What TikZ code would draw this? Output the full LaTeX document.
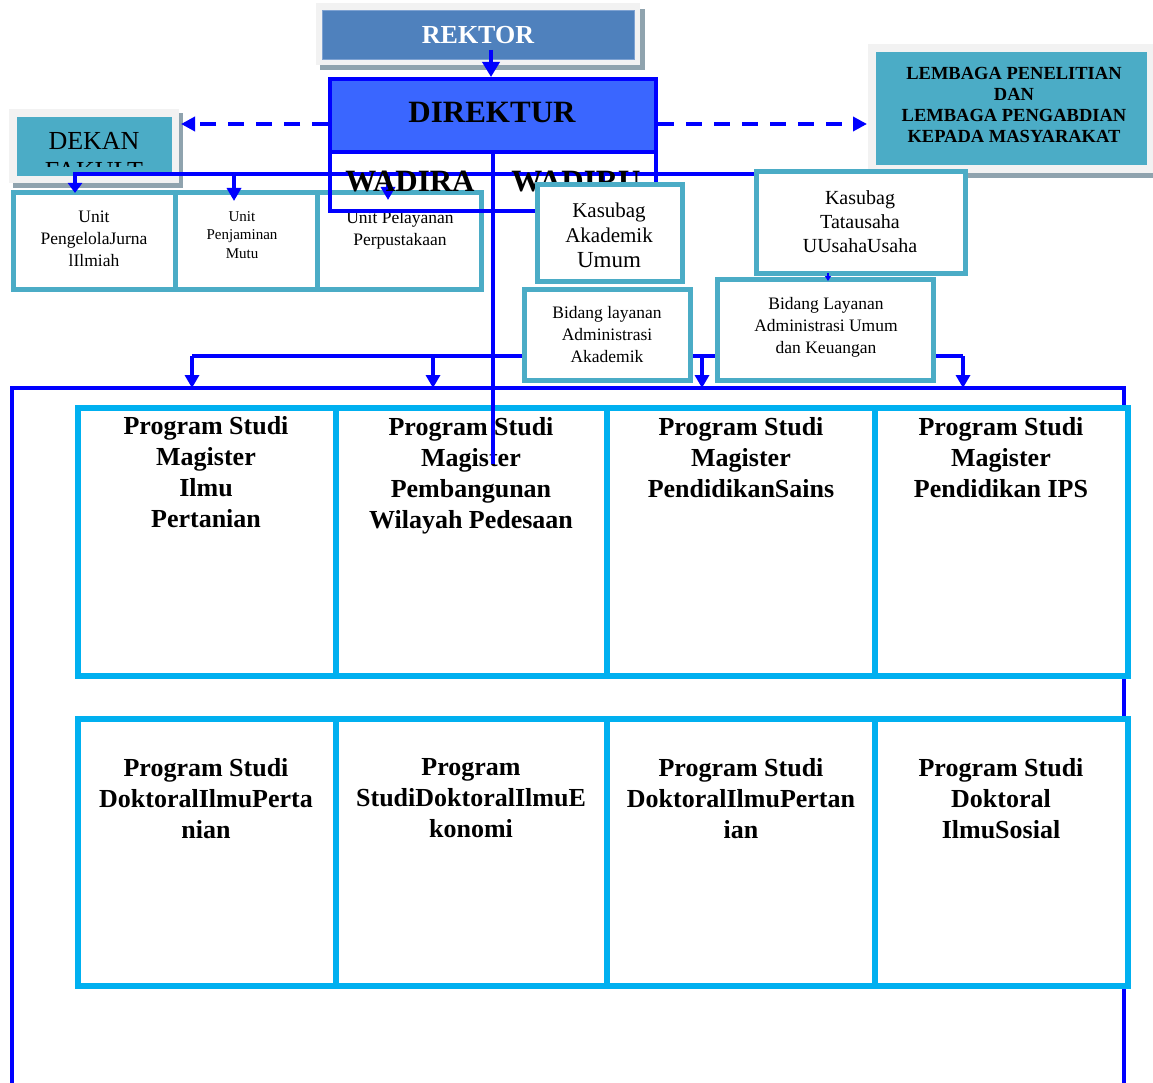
\documentclass[tikz,border=0pt]{standalone}
\usepackage{fontspec}
\setmainfont{Liberation Serif}
\usetikzlibrary{arrows.meta}
\definecolor{tealc}{HTML}{4BACC6}
\definecolor{cyanc}{HTML}{00B0F0}
\definecolor{blueL}{HTML}{0000FF}
\definecolor{direkc}{HTML}{3A66FF}
\definecolor{rektorc}{HTML}{4F81BD}
\definecolor{rekborder}{HTML}{7EA2D2}
\definecolor{framec}{HTML}{F2F2F2}
\definecolor{shadowc}{HTML}{8FA3AE}
\tikzset{
  tbox/.style={draw=tealc, line width=5pt, fill=white, inner sep=0pt},
  pbox/.style={draw=cyanc, line width=6pt, fill=white, inner sep=0pt},
  bl/.style={draw=blueL, line width=3.5pt},
  arr/.style={bl, -{Triangle[length=13pt,width=14pt]}},
  darr/.style={bl, dash pattern=on 16pt off 12pt, -{Triangle[length=14pt,width=14pt]}},
  txt/.style={align=center, inner sep=0pt, text=black},
  ptxt/.style={txt, font=\bfseries\fontsize{26}{31}\selectfont},
  utxt/.style={txt, font=\fontsize{17.5}{22}\selectfont},
}
\begin{document}
\begin{tikzpicture}[x=1pt,y=-1pt]
\useasboundingbox (0,0) rectangle (1153,1083);

% ---------- REKTOR ----------
\fill[shadowc] (320,9) rectangle (645,70);
\fill[framec] (316,3) rectangle (640,65);
\node[draw=rekborder, line width=1pt, fill=rektorc, minimum width=312pt, minimum height=49pt, inner sep=0pt,
      font=\bfseries\fontsize{26}{30}\selectfont, text=white] (rektor) at (478,35) {REKTOR};

% ---------- DEKAN ----------
\fill[shadowc] (13,113) rectangle (183,188);
\fill[framec] (9,109) rectangle (179,183);
\node[fill=tealc, minimum width=155pt, minimum height=59pt, inner sep=0pt] (dekan) at (94.5,146.5) {};
\node[txt, font=\fontsize{26}{30}\selectfont] (dekanT) at (94,141) {DEKAN};
\begin{scope}
  \clip (17,117) rectangle (172,167);
  \node[txt, font=\fontsize{26}{30}\selectfont, anchor=base] (fakT) at (94,180) {FAKULT};
\end{scope}

% ---------- LEMBAGA ----------
\fill[shadowc] (873,48) rectangle (1153,178);
\fill[framec] (868,44) rectangle (1153,173);
\node[fill=tealc, minimum width=271pt, minimum height=113pt, inner sep=0pt] (lembaga) at (1011.5,108.5) {};
\node[txt, font=\bfseries\fontsize{18.5}{21}\selectfont] (lembagaT) at (1014,105)
  {LEMBAGA PENELITIAN\\DAN\\LEMBAGA PENGABDIAN\\KEPADA MASYARAKAT};

% ---------- big blue frame ----------
\coordinate (fBL) at (12,1083);
\coordinate (fTL) at (12,388);
\coordinate (fTR) at (1124,388);
\coordinate (fBR) at (1124,1083);
\draw[blueL, line width=4.5pt] (fBL) -- (fTL) -- (fTR) -- (fBR);

% ---------- Program studi boxes ----------
\node[pbox, minimum width=258pt, minimum height=268pt] (m1) at (207,542) {};
\node[pbox, minimum width=271pt, minimum height=268pt] (m2) at (471.5,542) {};
\node[pbox, minimum width=268pt, minimum height=268pt] (m3) at (741,542) {};
\node[pbox, minimum width=252.5pt, minimum height=268pt] (m4) at (1001.25,542) {};
\node[pbox, minimum width=258pt, minimum height=267pt] (d1) at (207,852.5) {};
\node[pbox, minimum width=271pt, minimum height=267pt] (d2) at (471.5,852.5) {};
\node[pbox, minimum width=268pt, minimum height=267pt] (d3) at (741,852.5) {};
\node[pbox, minimum width=252.5pt, minimum height=267pt] (d4) at (1001.25,852.5) {};

\node[ptxt] (m1T) at (206,472.6) {Program Studi\\Magister\\Ilmu\\Pertanian};
\node[ptxt] (m2T) at (471,475.5) {Program Studi\\Magister\\Pembangunan\\Wilayah Pedesaan};
\node[ptxt] (m3T) at (741,457.6) {Program Studi\\Magister\\PendidikanSains};
\node[ptxt] (m4T) at (1001,457.6) {Program Studi\\Magister\\Pendidikan IPS};
\node[ptxt] (d1T) at (206,798.6) {Program Studi\\DoktoralIlmuPerta\\nian};
\node[ptxt] (d2T) at (471,798.6) {Program\\StudiDoktoralIlmuE\\konomi};
\node[ptxt] (d3T) at (741,798.6) {Program Studi\\DoktoralIlmuPertan\\ian};
\node[ptxt] (d4T) at (1001,798.6) {Program Studi\\Doktoral\\IlmuSosial};

% ---------- Unit boxes ----------
\node[tbox, minimum width=162pt, minimum height=96pt] (u1) at (94,241) {};
\node[tbox, minimum width=142pt, minimum height=96pt] (u2) at (246,241) {};
\node[tbox, minimum width=164pt, minimum height=96pt] (u3) at (399,241) {};
\node[utxt] (u1T) at (94,238.5) {Unit\\PengelolaJurna\\lIlmiah};
\node[txt, font=\fontsize{15}{18.5}\selectfont] (u2T) at (242,235) {Unit\\Penjaminan\\Mutu};
\node[utxt] (u3T) at (400,230) {Unit Pelayanan\\Perpustakaan};

% ---------- WADIR box + DIREKTUR ----------
\node[draw=blueL, line width=4pt, minimum width=326pt, minimum height=59pt, inner sep=0pt] (wadir) at (493,181.5) {};
\node[draw=blueL, line width=4pt, fill=direkc, minimum width=326pt, minimum height=73pt, inner sep=0pt] (direktur) at (493,115.5) {};
\node[txt, font=\bfseries\fontsize{31}{36}\selectfont] (direkturT) at (492,112.5) {DIREKTUR};

% ---------- bus at y=174 ----------
\coordinate (b1s) at (755,174);
\coordinate (b1a) at (75,174);
\coordinate (b1b) at (234,174);
\coordinate (b1c) at (388,174);
\coordinate (b1d) at (603,174);
\draw[arr, -{Triangle[length=10pt,width=14pt]}] (b1s) -- (b1a) -- (75,193);
\draw[arr] (b1b) -- (234,201);
\draw[arr] (b1c) -- (388,200);
\draw[arr] (b1d) -- (603,205);

\node[txt, font=\bfseries\fontsize{31}{36}\selectfont] (wadiraT) at (410,181.5) {WADIRA};
\node[txt, font=\bfseries\fontsize{31}{36}\selectfont] (wadiruT) at (576,181.5) {WADIRU};

% ---------- bus at y=356 ----------
\coordinate (b2a) at (192,356);
\coordinate (b2b) at (433,356);
\coordinate (b2c) at (702,356);
\coordinate (b2d) at (963,356);
\draw[bl] (b2a) -- (b2d);
\draw[arr] (b2a) -- (192,388);
\draw[arr] (b2b) -- (433,388);
\draw[arr] (b2c) -- (702,388);
\draw[arr] (b2d) -- (963,388);

% ---------- Kasubag / Bidang boxes ----------
\node[tbox, minimum width=145pt, minimum height=96pt] (kak) at (609.5,233) {};
\node[txt, font=\fontsize{21}{25}\selectfont] (kakT) at (609,235) {Kasubag\\Akademik\\{\fontsize{23}{25}\selectfont Umum}};
\node[tbox, minimum width=166pt, minimum height=91pt] (bla) at (607,334.5) {};
\node[utxt] (blaT) at (607,335) {Bidang layanan\\Administrasi\\Akademik};
\node[tbox, minimum width=209pt, minimum height=101pt] (ktu) at (860.5,222.5) {};
\node[txt, font=\fontsize{20}{24}\selectfont] (ktuT) at (860,222) {Kasubag\\Tatausaha\\UUsahaUsaha};
\node[tbox, minimum width=216pt, minimum height=101pt] (blu) at (825,329.5) {};
\node[utxt] (bluT) at (826,327) {Bidang Layanan\\Administrasi Umum\\dan Keuangan};
\draw[blueL, line width=1.5pt, -{Triangle[length=5pt,width=6pt]}] (828,273) -- (828,281);

% ---------- vertical trunk ----------
\draw[blueL, line width=4pt] (direktur.south) -- ++(0,310);

% ---------- REKTOR arrow and dashed arrows ----------
\draw[arr, -{Triangle[length=15pt,width=17pt]}] (491,50) -- (direktur.north -| 491,0);
\coordinate (dL) at (328,124);
\coordinate (dR) at (658,124);
\draw[darr] (dL) -- (181,124);
\draw[darr] (dR) -- (867,124);
\end{tikzpicture}
\end{document}
